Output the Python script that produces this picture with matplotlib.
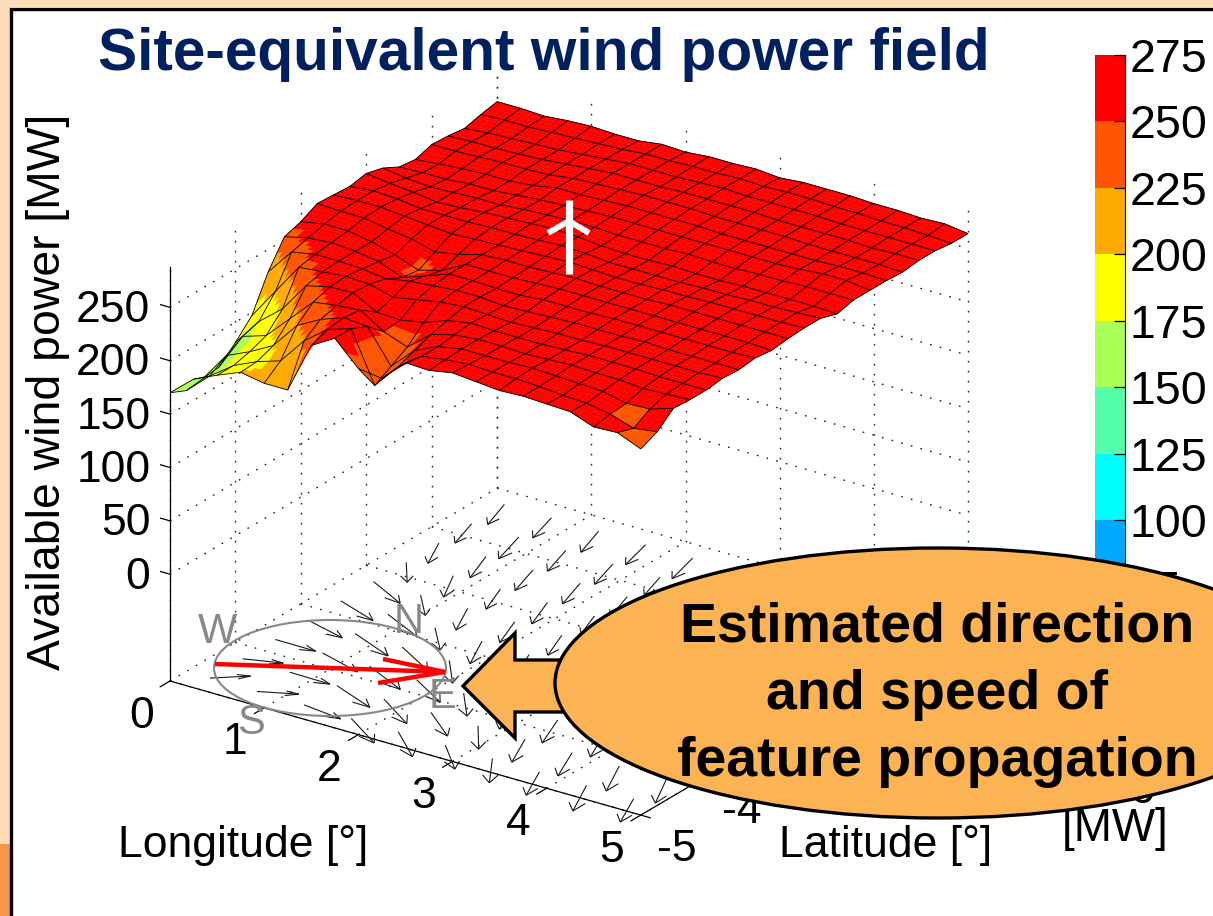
import numpy as np
import matplotlib
matplotlib.use("Agg")
import matplotlib.pyplot as plt
from matplotlib.colors import ListedColormap, BoundaryNorm
from matplotlib.patches import Ellipse, Polygon, Rectangle
from mpl_toolkits.mplot3d import proj3d, art3d

plt.rcParams['font.family'] = ['Liberation Sans', 'DejaVu Sans']

W, H = 1213, 916

# surface, one row per longitude step (0.25 deg), one column per latitude step (0.25 deg)
power = [
    [170,163,165,167,181,197,229,253,258,266,265,264,267,263,255,253,258,257,255,259,262],
    [189,183,193,202,207,226,254,258,262,265,266,266,264,260,256,255,258,258,257,260,262],
    [199,199,203,209,225,255,258,260,262,265,266,265,262,258,256,257,259,258,258,260,261],
    [208,209,215,231,253,257,258,258,258,261,264,262,259,259,258,258,260,259,259,261,263],
    [204,216,240,253,258,259,257,255,252,258,262,262,260,260,258,258,260,260,260,262,264],
    [204,241,252,256,259,258,254,246,244,252,260,262,262,260,260,260,261,262,262,263,263],
    [252,258,260,258,247,252,258,254,250,256,261,263,263,262,262,264,264,264,264,264,263],
    [265,265,258,244,246,256,260,262,262,262,262,263,264,263,263,264,265,266,266,266,266],
    [243,218,227,236,250,260,262,262,262,263,263,264,265,264,264,265,266,266,266,266,265],
    [240,242,248,254,258,262,262,261,262,263,264,265,264,264,265,266,267,266,266,267,267],
    [261,258,258,260,262,261,260,261,263,264,265,264,262,263,265,266,267,267,267,267,267],
    [260,261,262,262,261,260,261,263,264,265,264,262,261,263,265,266,267,267,268,268,268],
    [264,263,262,262,261,261,262,263,264,264,263,262,261,263,265,266,266,267,267,267,266],
    [262,262,262,261,261,262,263,263,264,264,263,262,262,264,265,265,266,267,267,268,268],
    [260,262,263,262,262,262,263,264,264,264,264,262,261,263,265,265,266,266,267,268,268],
    [261,261,262,263,263,263,263,264,264,265,264,263,261,263,265,265,266,266,267,267,268],
    [260,259,261,262,263,263,264,264,264,265,265,263,262,264,265,265,265,266,266,267,267],
    [259,258,260,262,263,263,263,264,264,265,265,264,262,264,266,265,265,266,266,266,267],
    [251,254,255,260,262,263,263,264,264,265,265,264,262,265,268,266,265,265,266,266,266],
    [252,247,256,261,262,263,263,264,264,265,265,265,262,265,268,266,265,266,266,265,267],
    [243,250,263,262,262,264,263,265,263,265,266,266,261,265,265,265,264,266,266,264,264],
]
# picture's colours differ a little from what the heights would give
colour_fixes = {(0, 5): 190, (0, 6): 215, (0, 7): 235,
                (1, 0): 165, (1, 1): 165, (1, 2): 165, (1, 3): 165, (1, 4): 178, (1, 5): 204, (1, 6): 232,
                (2, 0): 185, (2, 1): 185, (2, 2): 188, (2, 3): 190, (2, 4): 205, (2, 5): 238,
                (3, 0): 200, (3, 1): 190, (3, 2): 195, (3, 3): 215, (3, 4): 240,
                (4, 0): 210, (4, 1): 205, (4, 2): 225, (4, 3): 240,
                (5, 0): 210, (5, 1): 225, (5, 2): 242,
                (5, 7): 250, (5, 8): 247, (6, 8): 252, (4, 8): 256, (6, 4): 250.5, (6, 5): 256,
                (7, 2): 255, (7, 3): 249, (7, 4): 251,
                (8, 1): 222, (8, 2): 232, (8, 3): 246, (8, 4): 254,
                (9, 0): 250, (9, 1): 248, (9, 2): 253, (9, 3): 256,
                (18, 0): 255, (19, 1): 255}
flat_cells = [(18, 1), (19, 0)]

# arrows on the floor at 3x (right, down), one row per latitude
arrow_right = [
    [122,126,110,69,43,29,-9,-40,-41,-40],
    [122,121,99,69,50,2,-40,-43,-39,-33],
    [121,105,92,71,10,-34,-47,-44,-34,-40],
    [103,99,76,10,-20,-45,-45,-45,-45,-45],
    [97,87,16,-36,-40,-45,-45,-45,-45,-45],
    [80,14,-35,-45,-42,-45,-45,-45,-45,-45],
    [3,-29,-43,-47,-40,-47,-47,-47,-47,-47],
    [-33,-48,-54,-53,-50,-50,-50,-50,-50,-50],
    [-50,-60,-55,-55,-47,-50,-50,-50,-50,-50],
    [-50,-56,-53,-60,-62,-60,-60,-60,-60,-60],
]
arrow_down = [
    [-6,8,42,74,75,72,73,70,77,70],
    [13,36,65,74,71,70,69,70,75,71],
    [35,57,69,68,69,68,69,71,70,65],
    [53,67,70,68,70,68,70,68,68,68],
    [59,66,67,68,65,68,68,68,68,68],
    [65,61,65,62,60,62,62,62,62,62],
    [60,64,60,64,53,60,60,60,60,60],
    [61,64,62,62,60,60,60,60,60,60],
    [58,65,62,61,53,60,60,60,60,60],
    [60,60,63,60,62,60,60,60,60,60],
]

lon_ticks = [0, 1, 2, 3, 4, 5]
lat_ticks = [-5, -4, -3, -2, -1, 0]
z_ticks = [0, 50, 100, 150, 200, 250]
levels = [0, 25, 50, 75, 100, 125, 150, 175, 200, 225, 250, 275]
level_colors = ['#0000aa', '#0000ff', '#0055ff', '#00aaff', '#00ffff', '#55ffaa',
                '#aaff55', '#ffff00', '#ffaa00', '#ff5500', '#ff0000']

cmap = ListedColormap(level_colors)
norm = BoundaryNorm(levels, cmap.N)
Z_MIN, Z_MAX = -100, 288

fig = plt.figure(figsize=(W / 100, H / 100), dpi=100, facecolor='white')
ax = fig.add_axes([-0.5, -0.5, 2, 2], projection='3d', computed_zorder=False)
ax.set_proj_type('ortho')
ax.view_init(elev=24.19, azim=-55.2)
ax.set_xlim(0, 5)
ax.set_ylim(-5, 0)
ax.set_zlim(Z_MIN, Z_MAX)
ax.set_xticks([])
ax.set_yticks([])
ax.set_zticks([])
ax.set_axis_off()
ax.patch.set_alpha(0)
aspect = (1, 1, 0.792)
ax.set_box_aspect(aspect)

# grid
z = np.array(power, dtype=float)
lon = np.linspace(0, 5, 21)
lat = np.linspace(-5, 0, 21)
X, Y = np.meshgrid(lon, lat, indexing='ij')


def upsample(a, n=4):
    s = np.arange(21)
    f = np.linspace(0, 20, 20 * n + 1)
    a2 = np.array([np.interp(f, s, row) for row in a])
    return np.array([np.interp(f, s, col) for col in a2.T]).T


c = z.copy()
for (i, j), v in colour_fixes.items():
    c[i, j] = v
Xf, Yf, Zf, Cf = upsample(X), upsample(Y), upsample(z), upsample(c)
mid = (Cf[:-1, :-1] + Cf[1:, :-1] + Cf[:-1, 1:] + Cf[1:, 1:]) / 4
for i, j in flat_cells:
    mid[i * 4:(i + 1) * 4, j * 4:(j + 1) * 4] = 240.0
mid = np.pad(mid, ((0, 1), (0, 1)), mode='edge')
ax.plot_surface(Xf, Yf, Zf, facecolors=cmap(norm(mid)), rstride=1, cstride=1,
                shade=False, linewidth=0.3, zorder=5)
ax.plot_wireframe(X, Y, z, rstride=1, cstride=1, color='black', linewidth=0.6, zorder=6)

# box grid, dotted
dots = (0, (1.2, 6))
grid_kw = dict(color='#222222', lw=1.0, ls=dots, zorder=1)
for v in lat_ticks:
    ax.plot([0, 0], [v, v], [Z_MIN, Z_MAX], **grid_kw)
    ax.plot([0, 5], [v, v], [Z_MIN, Z_MIN], **grid_kw)
for v in lon_ticks:
    ax.plot([v, v], [0, 0], [Z_MIN, Z_MAX], **grid_kw)
    ax.plot([v, v], [-5, 0], [Z_MIN, Z_MIN], **grid_kw)
for v in z_ticks:
    ax.plot([0, 0], [-5, 0], [v, v], **grid_kw)
    ax.plot([0, 5], [0, 0], [v, v], **grid_kw)

# axes lines and ticks
line_kw = dict(color='black', lw=0.9, zorder=2)
ax.plot([0, 0], [-5, -5], [Z_MIN, Z_MAX], **line_kw)
ax.plot([0, 5], [-5, -5], [Z_MIN, Z_MIN], **line_kw)
ax.plot([5, 5], [-5, 0], [Z_MIN, Z_MIN], **line_kw)
for v in z_ticks:
    ax.plot([-0.1, 0], [-5, -5], [v, v], **line_kw)
for v in lon_ticks:
    ax.plot([v, v], [-5.15, -5], [Z_MIN, Z_MIN], **line_kw)
for v in lat_ticks:
    ax.plot([5, 5.1], [v, v], [Z_MIN, Z_MIN], **line_kw)

# floor arrows, (right, down) in pixels -> (lon, lat)
px_per_unit = np.array([[94.2, 65.4], [26.8, -38.6]])
to_data = np.linalg.inv(px_per_unit)
arrow_lon = np.arange(10) * 0.5 + 0.25
arrow_lat = np.arange(10) * 0.5 - 4.75
segs = []
for m in range(10):
    for k in range(10):
        du, dv = to_data @ (np.array([arrow_right[m][k], arrow_down[m][k]]) / 3.0)
        x0, y0 = arrow_lon[k], arrow_lat[m]
        x1, y1 = x0 + du, y0 + dv
        bx, by = x1 - 0.32 * du, y1 - 0.32 * dv
        segs.append([(x0, y0, Z_MIN), (x1, y1, Z_MIN)])
        segs.append([(bx - 0.13 * dv, by + 0.13 * du, Z_MIN), (x1, y1, Z_MIN)])
        segs.append([(bx + 0.13 * dv, by - 0.13 * du, Z_MIN), (x1, y1, Z_MIN)])
ax.add_collection3d(art3d.Line3DCollection(segs, colors='#1a1a1a', linewidths=0.8, zorder=4))


# line the box up with the picture: lon 0 / lat -5 floor corner, and lon 5 / lat 0 floor corner
def to_px(a, b, d):
    px, py, _ = proj3d.proj_transform(a, b, d, ax.get_proj())
    return ax.transData.transform((px, py))


corner_a = np.array([170.0, H - 681.0])
corner_c = np.array([968.0, H - 622.0])
fig.canvas.draw()
p = to_px(0, -5, Z_MIN)
q = to_px(5, 0, Z_MIN)
ax.set_box_aspect(aspect, zoom=np.linalg.norm(corner_c - corner_a) / np.linalg.norm(q - p))
fig.canvas.draw()
p = to_px(0, -5, Z_MIN)
shift = corner_a - p
ax.set_position([-0.5 + shift[0] / W, -0.5 + shift[1] / H, 2, 2])
fig.canvas.draw()

# colorbar
cax = fig.add_axes([1095 / W, 1 - 786 / H, 30 / W, (786 - 55) / H], zorder=3)
cax.pcolormesh([0, 1], levels, np.array(levels[:-1]).reshape(-1, 1) + 1, cmap=cmap, norm=norm)
cax.set_xticks([])
cax.set_yticks(levels)
cax.tick_params(axis='y', direction='in', length=8, width=0.9, left=False, right=True,
                labelleft=False, labelright=True, labelsize=33.5, pad=3)
for name in ['top', 'left', 'bottom']:
    cax.spines[name].set_visible(False)
cax.spines['right'].set_linewidth(0.8)

# everything placed on the slide, in pixels
ov = fig.add_axes([0, 0, 1, 1], zorder=5)
ov.set_xlim(0, W)
ov.set_ylim(H, 0)
ov.set_xticks([])
ov.set_yticks([])
ov.axis('off')
ov.patch.set_alpha(0)


# tick label anchored to a point of the 3d box
def box_label(s, a, b, d, **kw):
    px, py = to_px(a, b, d)
    ov.text(px, H - py, s, fontsize=32, va='center', zorder=2, **kw)


for v in z_ticks:
    box_label(str(v), 0, -5.3, v + 8, ha='right')
for v in lon_ticks:
    box_label(str(v), v, -5.44, Z_MIN - 17, ha='center')
for v in lat_ticks:
    box_label(str(v), 5.38, v, Z_MIN - 23, ha='center')

peach = '#fddcb7'
ov.add_patch(Rectangle((0, 0), W, 7, fc=peach, ec='none'))
ov.add_patch(Rectangle((0, 0), 10, H, fc=peach, ec='none'))
ov.add_patch(Rectangle((0, 844), 10, H - 844, fc='#f79646', ec='none'))
ov.plot([11, 11, W], [H, 8.5, 8.5], color='black', lw=2.4, solid_joinstyle='miter')

ov.text(544, 54, 'Site-equivalent wind power field', fontsize=42.2, fontweight='bold',
        color='#002060', ha='center', va='center')
ov.text(48, 392, 'Available wind power [MW]', fontsize=33.4, rotation=90, ha='center', va='center')
ov.text(243, 846, 'Longitude [°]', fontsize=32, ha='center', va='center')
ov.text(886, 846, 'Latitude [°]', fontsize=32, ha='center', va='center')
ov.text(1115, 829, '[MW]', fontsize=33, ha='center', va='center')

# turbine
ov.plot([569, 569], [200, 274], color='white', lw=5.2, solid_capstyle='butt')
ov.plot([548, 569, 589], [233, 221, 233], color='white', lw=4.2, solid_capstyle='butt')

# compass
ov.add_patch(Ellipse((330, 668), 232, 96, fc='none', ec='#888888', lw=1.5, zorder=3))
for s, x, y in [('W', 217, 632), ('N', 409, 622), ('E', 443, 697), ('S', 251, 723)]:
    ov.text(x, y, s, fontsize=30, color='#888888', ha='center', va='center', zorder=3)
ov.plot([215, 445], [664, 672], color='red', lw=3.2, solid_capstyle='butt', zorder=3)
ov.plot([383, 445, 378], [659, 672, 683], color='red', lw=3.2, solid_joinstyle='miter',
        solid_capstyle='butt', zorder=3)

# callout
fill = '#fbb354'
ov.add_patch(Polygon([(463, 686), (515, 633), (515, 660), (600, 660), (600, 712), (515, 712),
                      (515, 738)], closed=True, fc=fill, ec='black', lw=2.4, joinstyle='miter',
                     zorder=4))
ov.add_patch(Ellipse((938, 683), 766, 270, fc=fill, ec='black', lw=2.4, zorder=4))
for s, y in [('Estimated direction', 628), ('and speed of', 695), ('feature propagation', 762)]:
    ov.text(937, y, s, fontsize=40, fontweight='bold', ha='center', va='center', zorder=5)

fig.savefig('out.png', dpi=100)
